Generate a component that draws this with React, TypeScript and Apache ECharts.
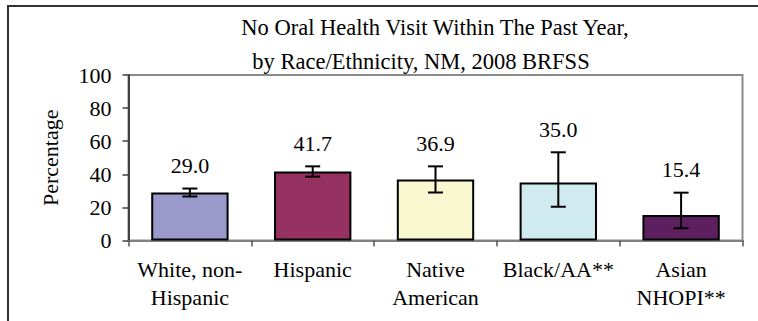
import React, { useEffect, useRef } from "react";
import * as echarts from "echarts";

const TITLE_LINES = ["No Oral Health Visit Within The Past Year,", "by Race/Ethnicity, NM, 2008 BRFSS"];
const CATEGORIES = ["White, non-\nHispanic", "Hispanic", "Native\nAmerican", "Black/AA**", "Asian\nNHOPI**"];
const VALUES = [29.0, 41.7, 36.9, 35.0, 15.4];
const CI_LOW = [26.6, 38.6, 29.0, 20.4, 7.4];
const CI_HIGH = [31.4, 44.8, 44.8, 53.3, 28.9];
const BAR_COLORS = ["#9999CC", "#953262", "#FAF8D0", "#D0EBF0", "#5E1F5E"];
const Y_TICKS = [0, 20, 40, 60, 80, 100];
const Y_NAME = "Percentage";

const FONT = "Liberation Serif";

export default function App() {
  const ref = useRef<HTMLDivElement>(null);

  useEffect(() => {
    if (!ref.current) return;
    const chart = echarts.init(ref.current, undefined, { renderer: "svg" });
    const errData = VALUES.map((v, i) => [i, CI_LOW[i], CI_HIGH[i], v]);
    const titleStyle = { fontFamily: FONT, fontSize: 22.5, fontWeight: "normal", color: "#000", lineHeight: 34 };
    chart.setOption({
      animation: false,
      backgroundColor: "#ffffff",
      textStyle: { fontFamily: FONT, fontSize: 22 },
      title: [
        { text: TITLE_LINES[0], left: 430, top: 5, textAlign: "center", textStyle: titleStyle },
        { text: TITLE_LINES[1], left: 416, top: 39, textAlign: "center", textStyle: titleStyle },
      ],
      graphic: [
        {
          type: "rect",
          shape: { x: 8, y: 6, width: 900, height: 500 },
          style: { fill: "none", stroke: "#333", lineWidth: 2 },
          z: 100,
        },
      ],
      grid: {
        left: 128.5,
        top: 75,
        width: 614,
        height: 165.5,
        show: true,
        borderColor: "#8a8a8a",
        borderWidth: 2,
        backgroundColor: "transparent",
      },
      xAxis: {
        type: "category",
        data: CATEGORIES,
        axisLine: { lineStyle: { color: "#808080", width: 2 } },
        axisTick: { show: true, length: 6, lineStyle: { color: "#555", width: 1.5 } },
        axisLabel: {
          interval: 0,
          margin: 15,
          color: "#000",
          fontFamily: FONT,
          fontSize: 22,
          fontWeight: "normal",
          lineHeight: 28,
        },
      },
      yAxis: {
        type: "value",
        min: Y_TICKS[0],
        max: Y_TICKS[Y_TICKS.length - 1],
        interval: Y_TICKS[1] - Y_TICKS[0],
        name: Y_NAME,
        nameLocation: "middle",
        nameRotate: 90,
        nameGap: 67,
        nameTextStyle: { color: "#000", fontFamily: FONT, fontSize: 22, fontWeight: "normal" },
        axisLine: { show: true, lineStyle: { color: "#404040", width: 2 } },
        axisTick: { show: true, length: 6, lineStyle: { color: "#404040", width: 1.5 } },
        axisLabel: { color: "#000", fontFamily: FONT, fontSize: 22, fontWeight: "normal", margin: 17 },
        splitLine: { show: false },
      },
      series: [
        {
          type: "bar",
          data: VALUES.map((v, i) => ({ value: v, itemStyle: { color: BAR_COLORS[i] } })),
          barWidth: "63%",
          itemStyle: { borderColor: "#000", borderWidth: 2 },
          z: 2,
        },
        {
          type: "custom",
          data: errData,
          z: 5,
          renderItem: (params: any, api: any) => {
            const idx = api.value(0);
            const lo = api.coord([idx, api.value(1)]);
            const hi = api.coord([idx, api.value(2)]);
            const val = api.value(3);
            const x = lo[0];
            const cap = 7.5;
            const ls = { stroke: "#000", lineWidth: 2 };
            return {
              type: "group",
              children: [
                { type: "line", shape: { x1: x, y1: lo[1], x2: x, y2: hi[1] }, style: ls },
                { type: "line", shape: { x1: x - cap, y1: lo[1], x2: x + cap, y2: lo[1] }, style: ls },
                { type: "line", shape: { x1: x - cap, y1: hi[1], x2: x + cap, y2: hi[1] }, style: ls },
                {
                  type: "text",
                  style: {
                    text: Number(val).toFixed(1),
                    x: x,
                    y: hi[1] - 23,
                    align: "center",
                    verticalAlign: "middle",
                    fill: "#000",
                    font: "normal 22px " + FONT,
                  },
                },
              ],
            };
          },
        },
      ],
    });
    return () => chart.dispose();
  }, []);

  return (
    <div
      ref={ref}
      style={{ position: "fixed", left: 0, top: 0, width: 758, height: 321, background: "#fff" }}
    />
  );
}
